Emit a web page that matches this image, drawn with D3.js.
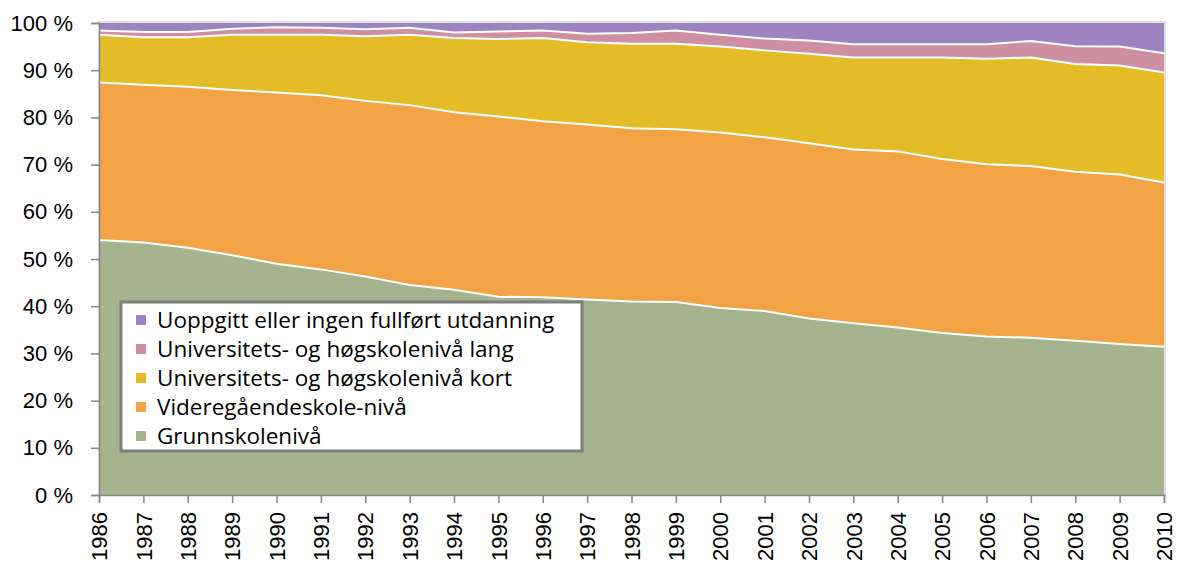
<!DOCTYPE html>
<html lang="no">
<head>
<meta charset="UTF-8">
<title>Utdanningsnivå 1986–2010</title>
<script src="https://d3js.org/d3.v7.min.js"></script>
<style>
    body { margin: 0; background: #fff; }
    svg { display: block; font-family: "Open Sans", Lato, sans-serif; }
</style>
</head>
<body>
<svg width="1178" height="573"></svg>
<script>
    // år og andeler (prosent) per utdanningsnivå
    const years = d3.range(1986, 2011);
    const grunnskole = [54.0, 53.5, 52.4, 50.8, 49.0, 47.8, 46.3, 44.5, 43.5, 42.0, 41.9, 41.4, 41.0, 40.9, 39.6, 39.0, 37.4, 36.4, 35.5, 34.3, 33.6, 33.3, 32.7, 32.0, 31.4];
    const videregaende = [33.4, 33.4, 34.1, 35.0, 36.3, 36.9, 37.2, 38.1, 37.6, 38.2, 37.3, 37.1, 36.7, 36.6, 37.2, 36.8, 37.1, 36.8, 37.3, 36.9, 36.5, 36.4, 35.8, 35.9, 34.8];
    const uniKort = [10.1, 10.1, 10.5, 11.7, 12.2, 12.8, 13.7, 14.9, 15.7, 16.4, 17.6, 17.4, 17.9, 18.1, 18.2, 18.4, 19.0, 19.5, 19.9, 21.5, 22.3, 23.0, 22.8, 23.1, 23.3];
    const uniLang = [0.9, 1.1, 1.1, 1.3, 1.6, 1.5, 1.5, 1.5, 1.2, 1.6, 1.6, 1.8, 2.3, 2.8, 2.5, 2.5, 2.8, 2.8, 2.8, 2.8, 3.1, 3.5, 3.8, 4.0, 4.1];
    const uoppgitt = [1.6, 1.9, 1.9, 1.2, 0.9, 1.0, 1.3, 1.0, 2.0, 1.8, 1.6, 2.3, 2.1, 1.6, 2.5, 3.3, 3.7, 4.5, 4.5, 4.5, 4.5, 3.8, 4.9, 5.0, 6.4];
    const yTicks = [0, 10, 20, 30, 40, 50, 60, 70, 80, 90, 100];

    const series = [
        { key: "Grunnskolenivå", values: grunnskole, color: "#a5b38f" },
        { key: "Videregåendeskole-nivå", values: videregaende, color: "#f2a345" },
        { key: "Universitets- og høgskolenivå kort", values: uniKort, color: "#e3bc28" },
        { key: "Universitets- og høgskolenivå lang", values: uniLang, color: "#cf8fa3" },
        { key: "Uoppgitt eller ingen fullført utdanning", values: uoppgitt, color: "#9d84c0" }
    ];

    const margin = { top: 23, right: 14, bottom: 78, left: 99 };
    const width = 1178, height = 573;
    const svg = d3.select("svg");

    const x = d3.scaleLinear().domain([1986, 2010]).range([margin.left, width - margin.right]);
    const y = d3.scaleLinear().domain([0, 100]).range([height - margin.bottom, margin.top]);

    // tabell for stack
    const table = years.map((yr, i) => {
        const row = { year: yr };
        series.forEach(s => row[s.key] = s.values[i]);
        return row;
    });
    const stacked = d3.stack().keys(series.map(s => s.key))(table);

    // rammen rundt plottet
    svg.append("rect")
        .attr("x", margin.left).attr("y", margin.top - 1)
        .attr("width", width - margin.right - margin.left + 1)
        .attr("height", height - margin.bottom - margin.top + 1)
        .attr("fill", "none").attr("stroke", "#d9d9d9").attr("stroke-width", 1.5);

    const area = d3.area()
        .x(d => x(d.data.year))
        .y0(d => y(d[0]))
        .y1(d => y(d[1]));

    svg.append("g").selectAll("path")
        .data(stacked)
        .join("path")
        .attr("d", area)
        .attr("fill", (d, i) => series[i].color);

    // hvite skillelinjer
    const topLine = d3.line()
        .x(d => x(d.data.year))
        .y(d => y(d[1]));
    svg.append("g").selectAll("path")
        .data(stacked.slice(0, 4))
        .join("path")
        .attr("d", topLine)
        .attr("fill", "none")
        .attr("stroke", "#fff")
        .attr("stroke-width", 2);

    // y-akse
    const yAxis = svg.append("g")
        .attr("transform", `translate(${margin.left},0)`)
        .call(d3.axisLeft(y).tickValues(yTicks).tickSize(8).tickPadding(18).tickFormat(d => d + " %"));
    yAxis.select(".domain").attr("stroke", "#868686").attr("stroke-width", 1.5);
    yAxis.selectAll(".tick line").attr("stroke", "#868686").attr("stroke-width", 1.5);
    yAxis.selectAll("text").attr("font-size", 22).attr("fill", "#000");

    // x-akse
    const xAxis = svg.append("g")
        .attr("transform", `translate(0,${height - margin.bottom})`)
        .call(d3.axisBottom(x).tickValues(years).tickSize(8).tickFormat(d3.format("d")));
    xAxis.select(".domain").attr("stroke", "#868686").attr("stroke-width", 1.5);
    xAxis.selectAll(".tick line").attr("stroke", "#868686").attr("stroke-width", 1.5);
    xAxis.selectAll("text")
        .attr("font-size", 22).attr("fill", "#000")
        .attr("transform", "rotate(-90)")
        .attr("text-anchor", "end")
        .attr("x", -17).attr("y", 0).attr("dy", "0.35em");

    // forklaring
    const legend = svg.append("g").attr("transform", "translate(121,302)");
    legend.append("rect")
        .attr("width", 461).attr("height", 149)
        .attr("fill", "#fff").attr("stroke", "#7f7f7f").attr("stroke-width", 3);
    const items = legend.selectAll("g.item")
        .data(series.slice().reverse())
        .join("g")
        .attr("class", "item")
        .attr("transform", (d, i) => `translate(0,${18 + i * 29})`);
    items.append("rect")
        .attr("x", 15).attr("y", -5).attr("width", 10).attr("height", 10)
        .attr("fill", d => d.color);
    items.append("text")
        .attr("x", 36).attr("dy", "0.35em")
        .attr("font-size", 22.5).attr("fill", "#000")
        .text(d => d.key);
</script>
</body>
</html>
